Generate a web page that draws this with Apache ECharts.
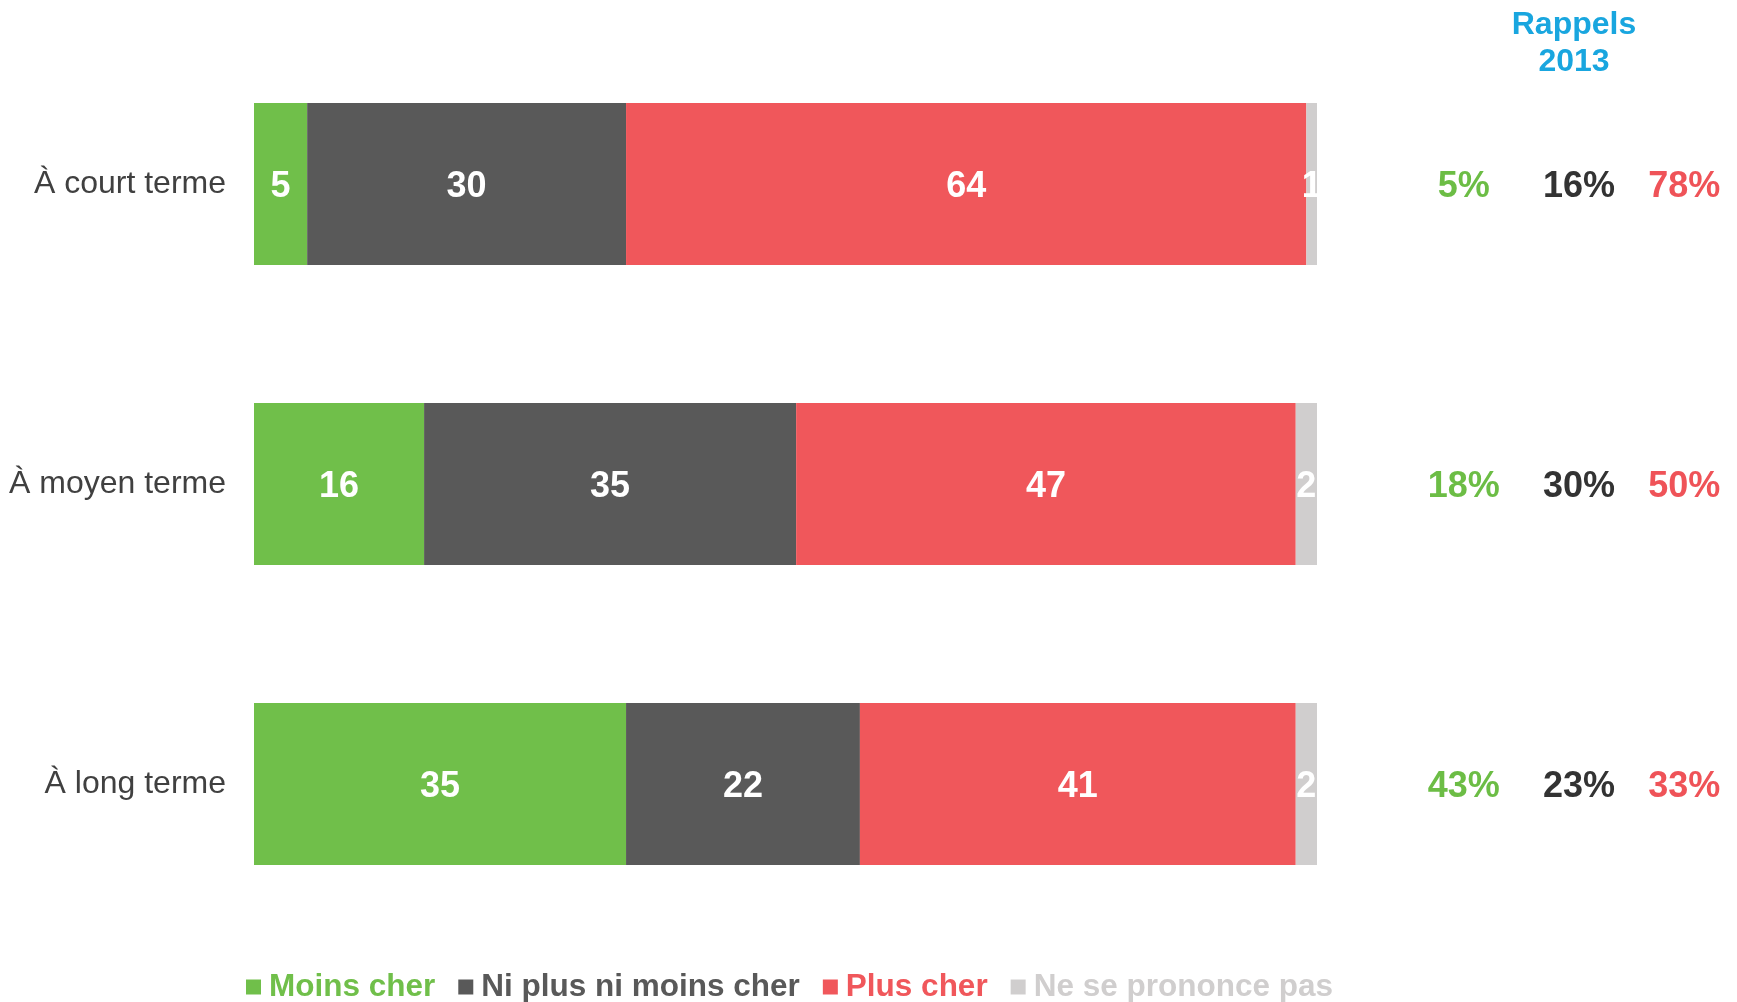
<!DOCTYPE html>
<html>
<head>
<meta charset="utf-8">
<script src="https://cdn.jsdelivr.net/npm/echarts@6/dist/echarts.min.js"></script>
<style>
  html, body { margin: 0; padding: 0; background: #fff; }
  #chart { width: 1737px; height: 1002px; }
</style>
</head>
<body>
<div id="chart"></div>
<script>
// categories (top to bottom)
var categories = ['À court terme', 'À moyen terme', 'À long terme'];

// stacked bar values
var moinsCher = [5, 16, 35];
var niPlusNiMoins = [30, 35, 22];
var plusCher = [64, 47, 41];
var nsp = [1, 2, 2];

// "Rappels 2013" columns
var rappelCols = ['Moins cher', 'Ni plus ni moins cher', 'Plus cher'];
var rappelMoins = [5, 18, 43];
var rappelNi = [16, 30, 23];
var rappelPlus = [78, 50, 33];

var GREEN = '#70bf4a', DARK = '#595959', RED = '#f0575b', LIGHT = '#d0cece';
var FONT = '"Liberation Sans", Arial, sans-serif';

function barSeries(name, data, color) {
  return {
    name: name,
    type: 'bar',
    stack: 'total',
    barCategoryGap: '46%',
    xAxisIndex: 0,
    yAxisIndex: 0,
    data: data,
    itemStyle: { color: color },
    label: {
      show: true,
      position: 'inside',
      offset: [0, 3],
      color: '#fff',
      fontFamily: FONT,
      fontWeight: 'bold',
      fontSize: 36
    },
    silent: true
  };
}

function rappelSeries(name, col, data, color, dx) {
  return {
    name: name + ' 2013',
    type: 'scatter',
    xAxisIndex: 1,
    yAxisIndex: 1,
    symbolSize: 1,
    itemStyle: { color: 'transparent', opacity: 1 },
    data: data.map(function (v, i) { return [col, i, v]; }),
    label: {
      show: true,
      position: 'inside',
      offset: [dx, 3],
      formatter: function (p) { return p.value[2] + '%'; },
      color: color,
      fontFamily: FONT,
      fontWeight: 'bold',
      fontSize: 36
    },
    silent: true
  };
}

var chart = echarts.init(document.getElementById('chart'));
chart.setOption({
  animation: false,
  backgroundColor: '#fff',
  textStyle: { fontFamily: FONT },
  title: {
    text: 'Rappels\n2013',
    left: 1569,
    top: 2,
    textAlign: 'center',
    textStyle: {
      color: '#19a6df',
      fontFamily: FONT,
      fontWeight: 'bold',
      fontSize: 32,
      lineHeight: 37
    }
  },
  legend: {
    left: 241,
    top: 966,
    icon: 'rect',
    itemWidth: 15,
    itemHeight: 15,
    itemGap: 23,
    selectedMode: false,
    textStyle: { fontFamily: FONT, fontWeight: 'bold', fontSize: 31.5, padding: [0, 0, 0, 3] },
    data: [
      { name: 'Moins cher', textStyle: { color: GREEN } },
      { name: 'Ni plus ni moins cher', textStyle: { color: DARK } },
      { name: 'Plus cher', textStyle: { color: RED } },
      { name: 'Ne se prononce pas', textStyle: { color: LIGHT } }
    ]
  },
  grid: [
    { left: 254, top: 34, width: 1063, height: 900 },
    { left: 1409, top: 34, width: 330, height: 900 }
  ],
  xAxis: [
    { type: 'value', gridIndex: 0, min: 0, max: 100, show: false },
    { type: 'category', gridIndex: 1, data: rappelCols, show: false }
  ],
  yAxis: [
    {
      type: 'category',
      gridIndex: 0,
      inverse: true,
      data: categories,
      axisLine: { show: false },
      axisTick: { show: false },
      axisLabel: {
        margin: 28,
        color: '#404040',
        fontFamily: FONT,
        fontSize: 32
      }
    },
    { type: 'category', gridIndex: 1, inverse: true, data: categories, show: false }
  ],
  series: [
    barSeries('Moins cher', moinsCher, GREEN),
    barSeries('Ni plus ni moins cher', niPlusNiMoins, DARK),
    barSeries('Plus cher', plusCher, RED),
    barSeries('Ne se prononce pas', nsp, LIGHT),
    rappelSeries('Moins cher', 0, rappelMoins, '#6cbd45', 0),
    rappelSeries('Ni plus ni moins cher', 1, rappelNi, '#333333', 6),
    rappelSeries('Plus cher', 2, rappelPlus, '#ef5358', 2)
  ]
});
</script>
</body>
</html>
